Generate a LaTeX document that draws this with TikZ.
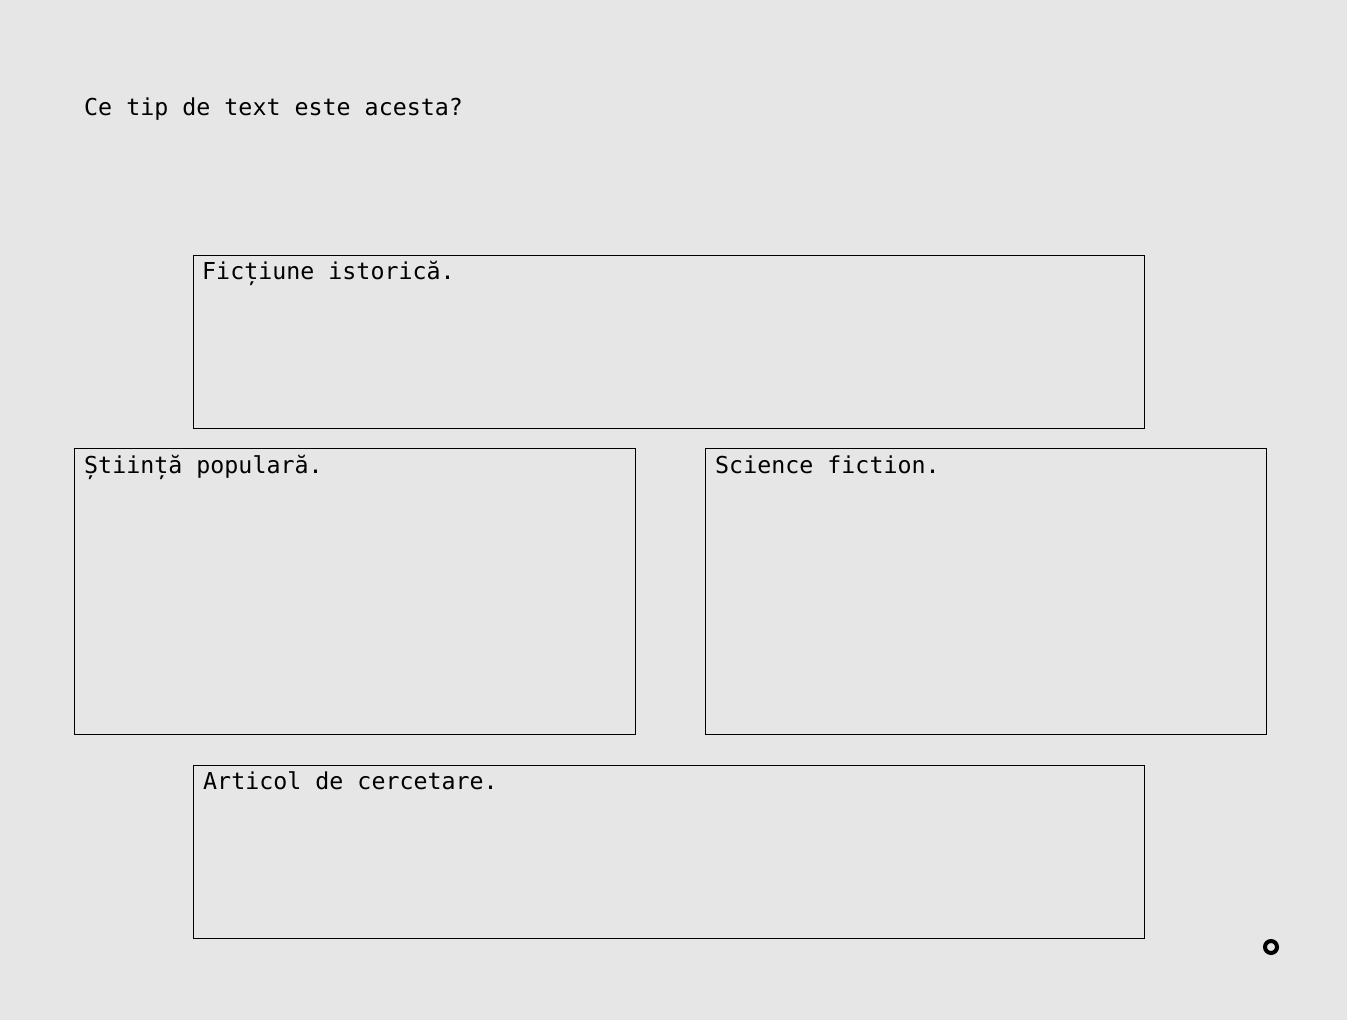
\documentclass[tikz,border=0pt]{standalone}
\usepackage{fontspec}
\setmonofont{DejaVu Sans Mono}
\definecolor{bgc}{HTML}{E6E6E6}
\begin{document}
\begin{tikzpicture}[x=1pt,y=-1pt,
  optbox/.style={draw=black,line width=1pt},
  lbl/.style={anchor=base west,inner sep=0pt,font=\ttfamily\fontsize{23.3}{27}\selectfont}]
\fill[bgc] (0,0) rectangle (1347,1020);
\useasboundingbox (0,0) rectangle (1347,1020);
\node[lbl] (q) at (84,115) {Ce tip de text este acesta?};
\draw[optbox] (193.5,255.5) rectangle (1144.5,428.5);
\node[lbl] (a) at (202,279) {Ficțiune istorică.};
\draw[optbox] (74.5,448.5) rectangle (635.5,734.5);
\node[lbl] (b) at (84,473) {Știință populară.};
\draw[optbox] (705.5,448.5) rectangle (1266.5,734.5);
\node[lbl] (c) at (715,473) {Science fiction.};
\draw[optbox] (193.5,765.5) rectangle (1144.5,938.5);
\node[lbl] (d) at (203,789) {Articol de cercetare.};
\draw[line width=4pt] (1271,947) circle (6);
\end{tikzpicture}
\end{document}
